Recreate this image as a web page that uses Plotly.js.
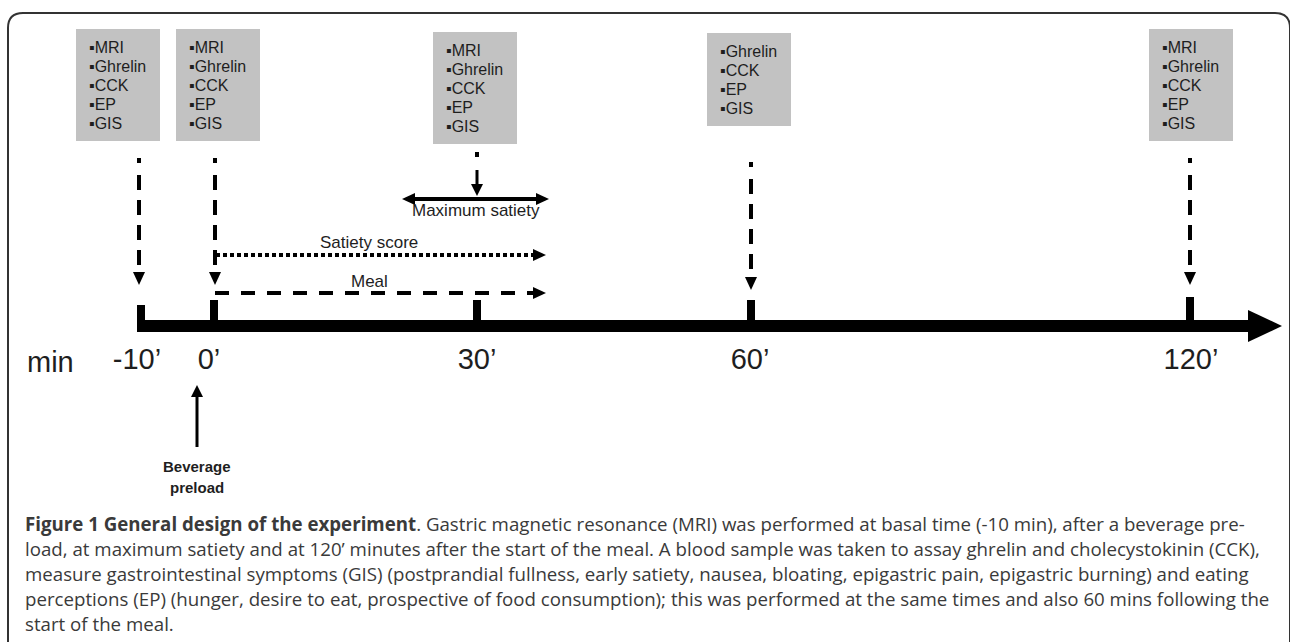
<!DOCTYPE html>
<html><head><meta charset="utf-8">
<script src="https://cdn.plot.ly/plotly-3.0.1.min.js"></script>
<style>html,body{margin:0;padding:0;background:#fff;overflow:hidden}#chart{width:1290px;height:642px}</style>
</head><body><div id="chart"></div>
<script>
// ---------------- data ----------------
const timeLabels = ["-10\u2019", "0\u2019", "30\u2019", "60\u2019", "120\u2019"];
const timeMinutes = [-10, 0, 30, 60, 120];
const measurementsAt = [
  ["MRI", "Ghrelin", "CCK", "EP", "GIS"],
  ["MRI", "Ghrelin", "CCK", "EP", "GIS"],
  ["MRI", "Ghrelin", "CCK", "EP", "GIS"],
  ["Ghrelin", "CCK", "EP", "GIS"],
  ["MRI", "Ghrelin", "CCK", "EP", "GIS"]
];
const unitLabel = "min";
const preloadLabel = ["Beverage", "preload"];
const periodLabels = ["Maximum satiety", "Satiety score", "Meal"];
const captionTitle = "Figure 1 General design of the experiment";
const captionLines = [
  ". Gastric magnetic resonance (MRI) was performed at basal time (-10 min), after a beverage pre-",
  "load, at maximum satiety and at 120\u2019 minutes after the start of the meal. A blood sample was taken to assay ghrelin and cholecystokinin (CCK),",
  "measure gastrointestinal symptoms (GIS) (postprandial fullness, early satiety, nausea, bloating, epigastric pain, epigastric burning) and eating",
  "perceptions (EP) (hunger, desire to eat, prospective of food consumption); this was performed at the same times and also 60 mins following the",
  "start of the meal."
];

// ---------------- layout geometry (pixels) ----------------
const tickX   = [141, 214, 477, 751, 1190];
const arrowX  = [139, 215, 477, 751, 1190];
const labelX  = [137, 209, 477, 750, 1191];
const boxLeft = [76, 176, 433, 707, 1149];
const boxTop  = [29, 29, 32, 33, 29];
const boxW = 84, lineGap = 19, firstLine = 18;
const dotY    = [158, 158, 152, 162, 158];
const tipY    = [285, 285, 196, 290, 285];
const tickTop = [305, 300, 300, 300, 297];
const axisTop = 320, axisBot = 332, axisStart = 137, axisEnd = 1250;

const BLACK = "#000";
const TXT = "#1e1e1e";
const shapes = [], annotations = [];

function rect(x0, y0, x1, y1, fill) {
  shapes.push({type: "rect", xref: "x", yref: "y", x0, y0, x1, y1,
    fillcolor: fill, line: {width: 0}, layer: "above"});
}
function line(x0, y0, x1, y1, w, dash) {
  shapes.push({type: "line", xref: "x", yref: "y", x0, y0, x1, y1,
    line: {color: BLACK, width: w, dash: dash || "solid"}});
}
function tri(tx, ty, dir, len, half) {
  let p;
  if (dir === "down") p = `M${tx - half},${ty - len} L${tx + half},${ty - len} L${tx},${ty} Z`;
  if (dir === "up") p = `M${tx - half},${ty + len} L${tx + half},${ty + len} L${tx},${ty} Z`;
  if (dir === "right") p = `M${tx - len},${ty - half} L${tx - len},${ty + half} L${tx},${ty} Z`;
  if (dir === "left") p = `M${tx + len},${ty - half} L${tx + len},${ty + half} L${tx},${ty} Z`;
  shapes.push({type: "path", xref: "x", yref: "y", path: p, fillcolor: BLACK, line: {width: 0}});
}

// frame
shapes.push({type: "path", xref: "x", yref: "y",
  path: "M8,660 L8,28 Q8,13 23,13 L1275,13 Q1290,13 1290,28 L1290,660",
  line: {color: "#333", width: 2}});

// measurement boxes + text
measurementsAt.forEach((list, i) => {
  const h = firstLine * 2 + (list.length - 1) * lineGap;
  rect(boxLeft[i], boxTop[i], boxLeft[i] + boxW, boxTop[i] + h, "#c2c2c2");
  list.forEach((m, j) => {
    annotations.push({x: boxLeft[i] + 11, y: boxTop[i] + firstLine + j * lineGap,
      xref: "x", yref: "y", xanchor: "left", yanchor: "middle", showarrow: false,
      text: "\u25AA" + m, font: {family: "Liberation Sans, Arial, sans-serif", size: 16, color: TXT}});
  });
});

// vertical dashed arrows from boxes to the time axis
timeMinutes.forEach((t, i) => {
  const x = arrowX[i];
  rect(x - 2, dotY[i], x + 2, dotY[i] + 5, BLACK);
  if (t === 30) {
    line(x, dotY[i] + 18, x, tipY[i] - 10, 3);
    tri(x, tipY[i], "down", 12, 6);
  } else {
    line(x, dotY[i] + 17, x, tipY[i] - 11, 4, "15px,10px");
    tri(x, tipY[i], "down", 13, 6);
  }
});

// Maximum satiety double arrow
line(412, 199, 540, 199, 4);
tri(402, 199, "left", 13, 6);
tri(549, 199, "right", 13, 6);
annotations.push({x: 476, y: 210, xref: "x", yref: "y", showarrow: false, yanchor: "middle",
  text: periodLabels[0], font: {family: "Liberation Sans, Arial, sans-serif", size: 17, color: TXT}});

// Satiety score dotted arrow
line(216, 255, 534, 255, 4, "4px,3px");
tri(546, 255, "right", 13, 6);
annotations.push({x: 369, y: 242, xref: "x", yref: "y", showarrow: false, yanchor: "middle",
  text: periodLabels[1], font: {family: "Liberation Sans, Arial, sans-serif", size: 17, color: TXT}});

// Meal dashed arrow
line(215, 293, 534, 293, 4, "14px,12px");
tri(546, 293, "right", 13, 6);
annotations.push({x: 369, y: 281, xref: "x", yref: "y", showarrow: false, yanchor: "middle",
  text: periodLabels[2], font: {family: "Liberation Sans, Arial, sans-serif", size: 17, color: TXT}});

// time axis + ticks
rect(axisStart, axisTop, axisEnd, axisBot, BLACK);
tri(1282, 326, "right", 34, 16);
tickX.forEach((x, i) => rect(x - 4, tickTop[i], x + 4, axisBot, BLACK));

// unit label
annotations.push({x: 50, y: 362, xref: "x", yref: "y", showarrow: false, yanchor: "middle",
  text: unitLabel, font: {family: "Liberation Sans, Arial, sans-serif", size: 29, color: TXT}});

// beverage preload arrow
line(197, 447, 197, 396, 3);
tri(197, 385, "up", 12, 6);
preloadLabel.forEach((s, j) => annotations.push({x: 197, y: 466 + j * 21, xref: "x", yref: "y",
  showarrow: false, yanchor: "middle", text: "<b>" + s + "</b>",
  font: {family: "Liberation Sans, Arial, sans-serif", size: 15, color: TXT}}));

// caption
captionLines.forEach((s, j) => annotations.push({x: 23, y: 523 + j * 25, xref: "x", yref: "y",
  xanchor: "left", yanchor: "middle", showarrow: false,
  text: (j === 0 ? "<b>" + captionTitle + "</b>" : "") + s,
  font: {family: "Open Sans, Noto Sans, sans-serif", size: 18.7, color: "#3a3a3a"}}));

// time labels as a text trace on the diagram scale
const trace = {
  type: "scatter", mode: "text", x: labelX, y: labelX.map(() => 362),
  text: timeLabels, textposition: "middle center", hoverinfo: "skip",
  textfont: {family: "Liberation Sans, Arial, sans-serif", size: 29, color: TXT},
  customdata: timeMinutes, showlegend: false
};

const layout = {
  width: 1290, height: 642, margin: {l: 0, r: 0, t: 0, b: 0},
  paper_bgcolor: "#fff", plot_bgcolor: "#fff", showlegend: false,
  xaxis: {range: [0, 1290], visible: false, fixedrange: true},
  yaxis: {range: [642, 0], visible: false, fixedrange: true},
  shapes, annotations
};
Plotly.newPlot("chart", [trace], layout, {staticPlot: true, displayModeBar: false});
</script>
</body></html>
